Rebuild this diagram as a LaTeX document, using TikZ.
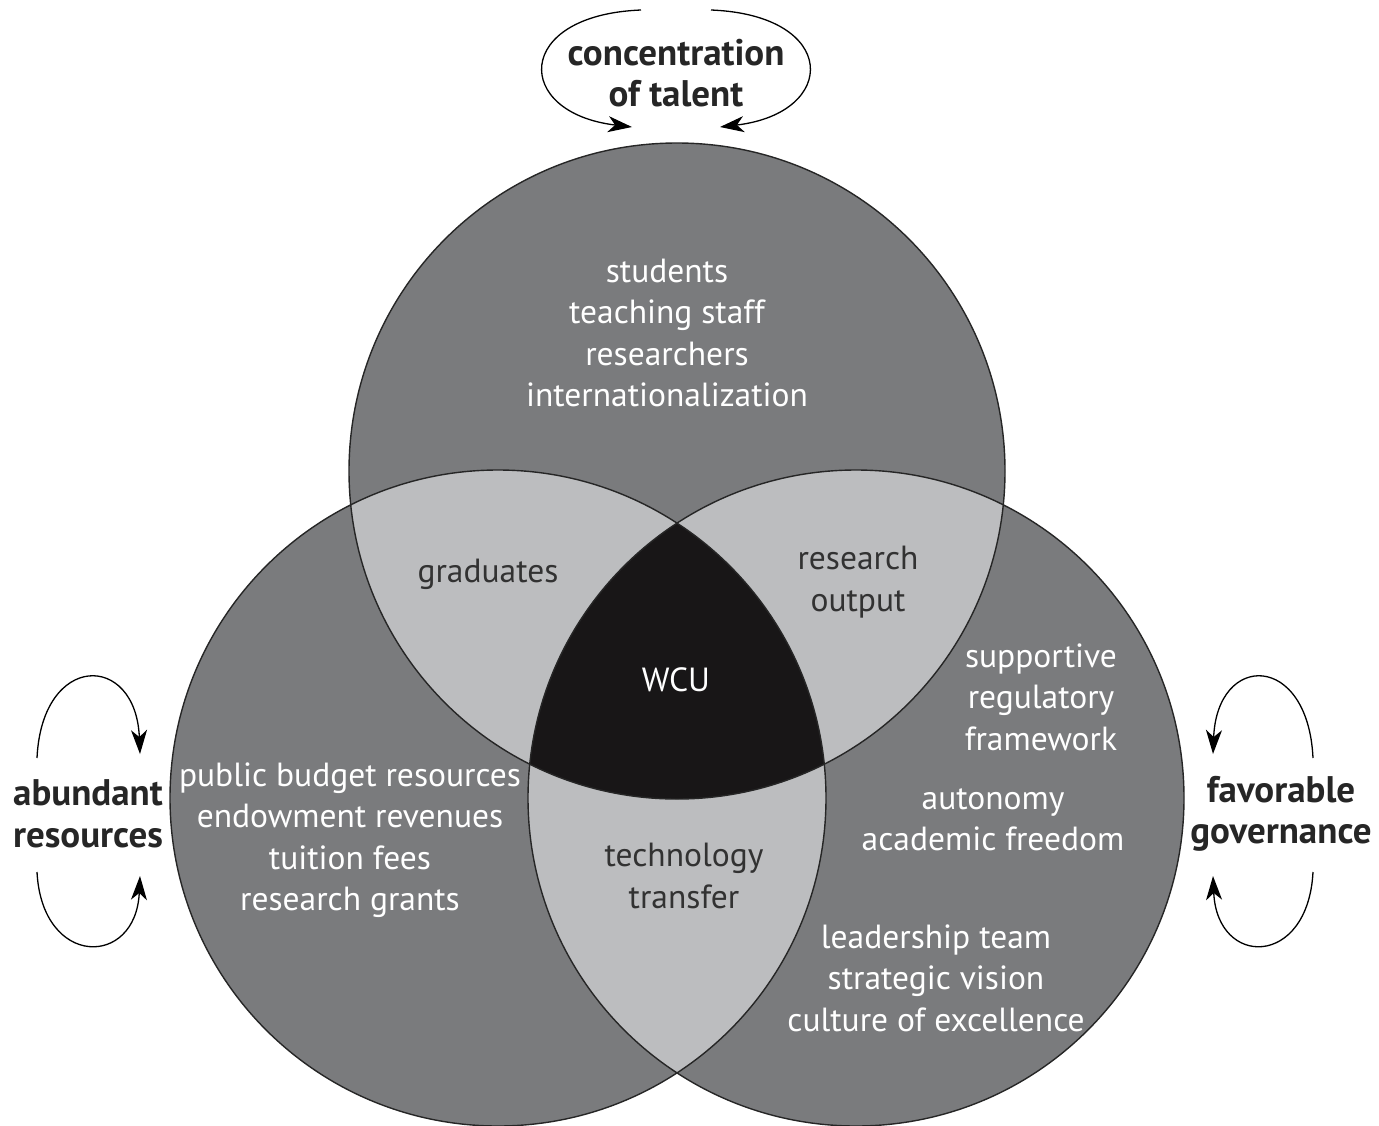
\documentclass[tikz,border=0pt]{standalone}
\usepackage{fontspec}
\setmainfont{PT Sans}
\usetikzlibrary{arrows.meta}
\definecolor{ringgrey}{RGB}{122,123,125}
\definecolor{lapgrey}{RGB}{188,189,191}
\definecolor{coregrey}{RGB}{24,22,23}
\definecolor{lapink}{RGB}{50,50,50}
\tikzset{
  lbl/.style={align=center, inner sep=0pt, font=\fontsize{33.5}{41.5}\selectfont, text=white},
  laplbl/.style={lbl, text=lapink},
  side/.style={align=center, inner sep=0pt, font=\fontsize{37}{41.5}\selectfont\bfseries, text=black!85},
  loop/.style={line width=1.3pt, -{Stealth[length=24pt,width=16pt,inset=7pt]}}
}
\begin{document}
\begin{tikzpicture}[x=1pt,y=-1pt]
\useasboundingbox (0,0) rectangle (1379,1125);
\clip (0,0) rectangle (1379,1125);
\coordinate (ct) at (677,471);
\coordinate (cl) at (498,798);
\coordinate (cr) at (856,798);
\fill[ringgrey] (ct) circle[radius=328pt] (cl) circle[radius=328pt] (cr) circle[radius=328pt];
\begin{scope}
\clip (ct) circle[radius=328pt];
\fill[lapgrey] (cl) circle[radius=328pt] (cr) circle[radius=328pt];
\end{scope}
\begin{scope}
\clip (cl) circle[radius=328pt];
\fill[lapgrey] (cr) circle[radius=328pt];
\clip (ct) circle[radius=328pt];
\fill[coregrey] (cr) circle[radius=328pt];
\end{scope}
\foreach \c in {ct,cl,cr}{
\draw[line width=1.4pt, black!85] (\c) circle[radius=328pt];
}

\node[lbl] (talent) at (667,333) {students\\teaching staff\\researchers\\internationalization};
\node[laplbl] (grad) at (488,574) {graduates};
\node[laplbl] (resout) at (858,582) {research\\output};
\node[lbl] (wcu) at (676,680) {WCU};
\node[laplbl] (tech) at (684,876) {technology\\transfer};
\node[lbl] (money) at (350,840) {public budget resources\\endowment revenues\\tuition fees\\research grants};
\node[lbl] (regul) at (1041,697) {supportive\\regulatory\\framework};
\node[lbl] (auton) at (993,820) {autonomy\\academic freedom};
\node[lbl] (lead) at (936,978) {leadership team\\strategic vision\\culture of excellence};

\node[side] (conc) at (676,73) {concentration\\of talent};
\node[side] (abund) at (88,814) {abundant\\resources};
\node[side] (favor) at (1281,814) {favorable\\governance};

\coordinate (ta) at (641,10);  \coordinate (tb) at (632,127);
\coordinate (tc) at (711,10);  \coordinate (td) at (720,127);
\coordinate (la) at (37,758);  \coordinate (lb) at (140,754);
\coordinate (lc) at (37,872);  \coordinate (ld) at (140,876);
\coordinate (ra) at (1313,758); \coordinate (rb) at (1213,754);
\coordinate (rc) at (1313,872); \coordinate (rd) at (1213,876);
\draw[loop] (ta) .. controls (513,15) and (513,113) .. (tb);
\draw[loop] (tc) .. controls (839,15) and (839,113) .. (td);
\draw[loop] (la) .. controls (42,652) and (136,652) .. (lb);
\draw[loop] (lc) .. controls (42,968) and (136,968) .. (ld);
\draw[loop] (ra) .. controls (1308,652) and (1217,652) .. (rb);
\draw[loop] (rc) .. controls (1308,968) and (1217,968) .. (rd);
\end{tikzpicture}
\end{document}
